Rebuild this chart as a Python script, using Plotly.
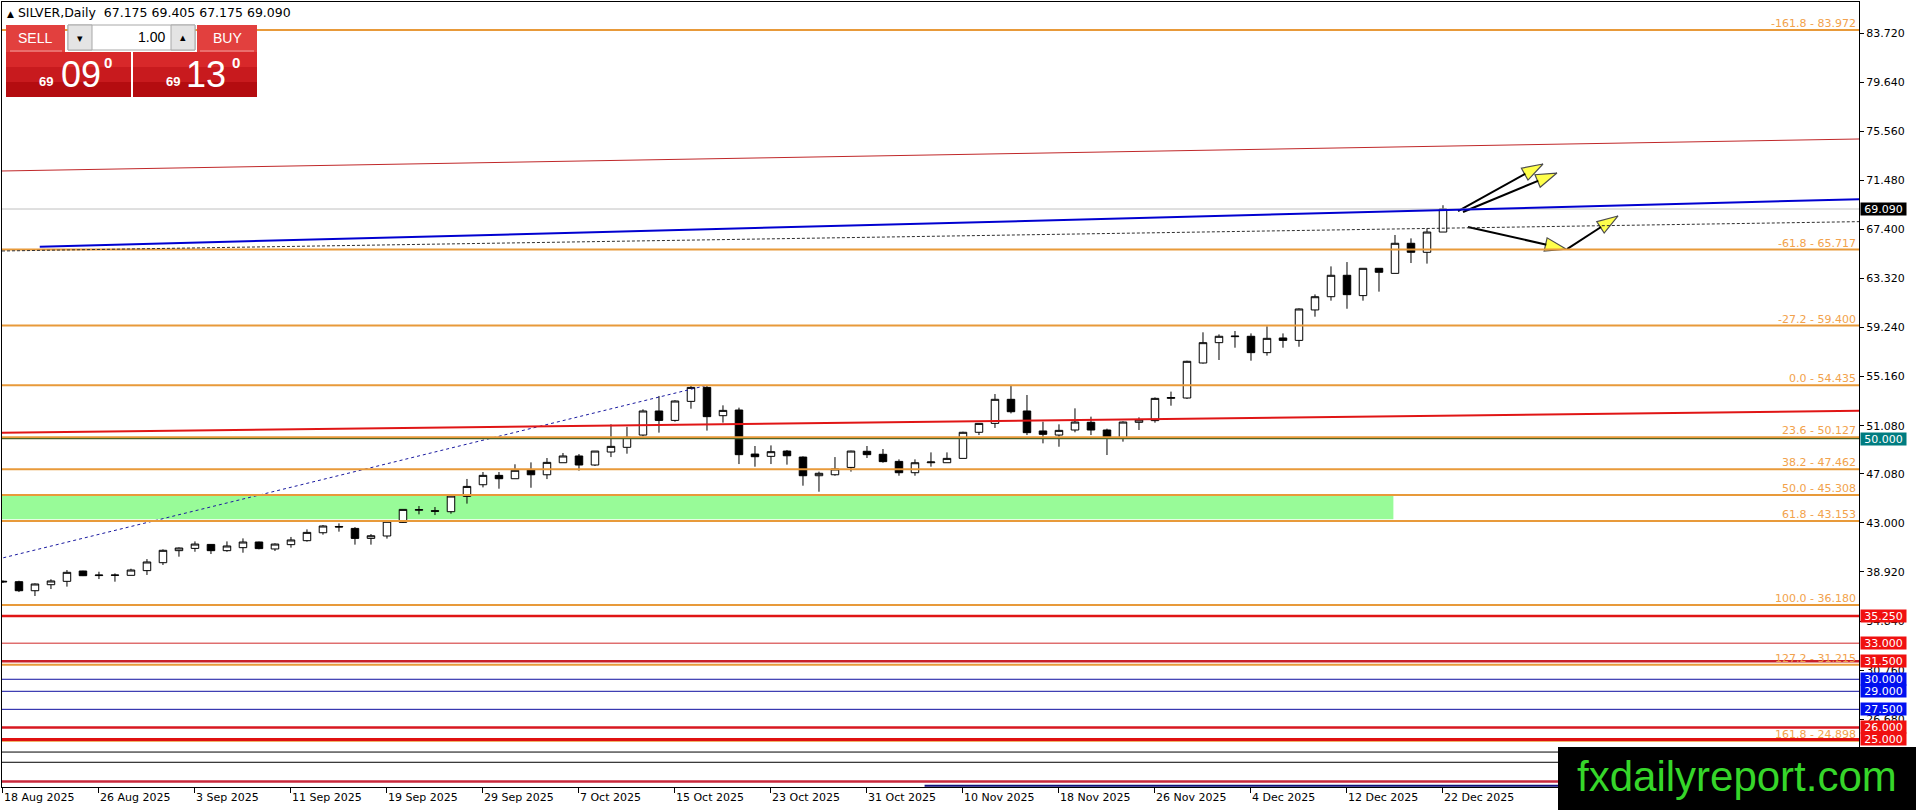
import plotly.graph_objects as go

# ---- data (daily bars, 18 Aug 2025 .. 22 Dec 2025) ----
tick_labels = ["18 Aug 2025", "26 Aug 2025", "3 Sep 2025", "11 Sep 2025",
               "19 Sep 2025", "29 Sep 2025", "7 Oct 2025", "15 Oct 2025",
               "23 Oct 2025", "31 Oct 2025", "10 Nov 2025", "18 Nov 2025",
               "26 Nov 2025", "4 Dec 2025", "12 Dec 2025", "22 Dec 2025"]

opens = [38.15, 38.11, 37.36, 37.86, 38.14, 39.00, 38.62, 38.64, 38.64, 39.03,
         39.69, 40.69, 40.88, 41.21, 40.69, 40.94, 41.41, 40.83, 41.19, 41.52,
         42.18, 42.70, 42.54, 41.71, 41.91, 43.04, 44.05, 44.01, 43.93, 45.20,
         46.17, 46.95, 46.67, 47.40, 47.00, 48.00, 48.56, 47.81, 48.89, 49.28,
         50.30, 52.30, 51.52, 53.10, 54.26, 51.91, 52.38, 48.72, 48.53, 48.97,
         48.47, 46.92, 47.00, 47.61, 48.95, 48.70, 48.11, 47.17, 48.00, 48.00,
         48.36, 50.53, 51.27, 53.27, 52.30, 50.64, 50.30, 50.72, 51.36, 50.72,
         50.03, 51.36, 51.50, 53.35, 53.38, 56.29, 57.98, 58.48, 58.51, 57.15,
         58.37, 58.17, 60.70, 61.80, 63.58, 61.89, 64.16, 63.74, 66.24, 65.49,
         67.175]
highs = [38.22, 38.19, 37.97, 38.31, 39.08, 39.02, 38.94, 38.80, 39.19, 39.99,
         40.80, 40.96, 41.46, 41.24, 41.46, 41.71, 41.44, 41.30, 41.83, 42.46,
         42.82, 42.96, 42.65, 42.07, 43.13, 44.12, 44.40, 44.32, 45.31, 46.65,
         47.23, 47.23, 47.87, 48.03, 48.39, 48.81, 48.72, 48.97, 51.19, 50.99,
         52.44, 53.55, 53.19, 54.43, 54.435, 52.77, 52.58, 49.39, 49.44, 49.06,
         48.53, 47.26, 48.47, 49.00, 49.39, 49.14, 48.28, 48.28, 48.86, 48.86,
         50.58, 51.27, 53.71, 54.40, 53.63, 51.41, 51.19, 52.52, 51.83, 50.83,
         51.44, 51.77, 53.43, 53.91, 56.48, 58.84, 58.67, 58.95, 58.75, 59.34,
         58.75, 60.83, 61.99, 64.32, 64.68, 64.16, 64.16, 66.93, 66.65, 67.48,
         69.405]
lows = [38.00, 37.25, 36.92, 37.50, 37.70, 38.58, 38.33, 38.11, 38.64, 38.67,
        39.50, 40.19, 40.60, 40.41, 40.60, 40.52, 40.80, 40.66, 40.94, 41.44,
        42.02, 42.27, 41.19, 41.19, 41.69, 42.99, 43.71, 43.65, 43.76, 44.60,
        45.95, 45.84, 46.67, 45.92, 46.64, 48.00, 47.34, 47.73, 48.47, 48.75,
        50.20, 50.50, 51.41, 52.49, 50.67, 51.33, 47.89, 47.67, 47.89, 47.84,
        46.09, 45.59, 46.92, 47.26, 48.39, 48.00, 46.92, 46.92, 47.67, 48.00,
        48.36, 50.30, 50.89, 52.10, 50.30, 49.61, 49.33, 50.53, 50.30, 48.64,
        49.75, 50.72, 51.33, 52.74, 53.30, 56.24, 56.54, 57.56, 56.48, 56.90,
        57.56, 57.64, 60.14, 61.47, 60.80, 61.47, 62.22, 63.74, 64.60, 64.55,
        67.175]
closes = [38.10, 37.36, 37.92, 38.17, 38.89, 38.61, 38.66, 38.66, 39.08, 39.75,
          40.72, 40.91, 41.24, 40.69, 41.08, 41.41, 40.86, 41.24, 41.58, 42.21,
          42.74, 42.66, 41.71, 41.93, 43.13, 44.12, 44.10, 43.97, 45.23, 46.03,
          46.95, 46.67, 47.37, 47.00, 48.03, 48.56, 47.81, 48.97, 49.36, 50.11,
          52.30, 51.52, 53.13, 54.26, 51.83, 52.35, 48.67, 48.50, 48.92, 48.58,
          46.92, 47.12, 47.48, 48.97, 48.67, 48.09, 47.17, 48.00, 48.06, 48.36,
          50.53, 51.27, 53.27, 52.24, 50.50, 50.36, 50.69, 51.38, 50.72, 50.03,
          51.38, 51.55, 53.35, 53.42, 56.43, 57.98, 58.51, 58.52, 57.15, 58.34,
          58.17, 60.78, 61.80, 63.58, 61.97, 64.16, 63.83, 66.24, 65.49, 67.175,
          69.09]

price_ticks = [22.600, 26.680, 30.760, 34.840, 38.920, 43.000, 47.080, 51.080,
               55.160, 59.240, 63.320, 67.400, 71.480, 75.560, 79.640, 83.720]

fib_ratios = [-161.8, -61.8, -27.2, 0.0, 23.6, 38.2, 50.0, 61.8, 100.0, 127.2, 161.8]
fib_prices = [83.972, 65.717, 59.400, 54.435, 50.127, 47.462, 45.308, 43.153,
              36.180, 31.215, 24.898]
fib_anchor = [-12, 36.180, 44, 54.435]        # bar, price, bar, price

red_levels = [35.25, 33.0, 31.5, 26.0, 25.0]
blue_levels = [30.0, 29.0, 27.5]
black_levels = [23.95, 23.10]
low_red_level = 21.50
low_blue_level = [57.6, 21.15]                # starts at bar, price
pivot_level = 50.0
bid_price = 69.09
ask_text = ("69", "13")
bid_text = ("69", "09")

# trend lines: bar0, price0, bar1, price1
red_channel_top = [-0.06, 72.25, 116, 74.91]
red_channel_mid = [-0.06, 50.50, 116, 52.32]
blue_trend = [2.3, 65.96, 116, 69.90]
dash_trend = [-0.06, 65.60, 116, 68.04]

# demand zone: bar0, bar1, price low, price high
zone = [-1, 86.9, 43.30, 45.28]

# scenario arrows: bar0, price0, bar1, price1
arrows = [[90.94, 68.92, 96.25, 72.83],
          [91.25, 68.84, 97.12, 72.08],
          [91.56, 67.59, 97.69, 65.76],
          [97.75, 65.76, 100.94, 68.51]]

header = "SILVER,Daily  67.175 69.405 67.175 69.090"

# ---- page geometry ----
W, H = 1916, 810
ML, MR, MT, MB = 2, 57, 2, 23
FONT = "DejaVu Sans"
ORANGE = "#E89A3A"
ORANGE_TXT = "#F2A24C"


def fx(px):
    return (px - ML) / (W - ML - MR)


def fy(py):
    return (H - MB - py) / (H - MT - MB)


bars = list(range(len(closes)))

fig = go.Figure()
fig.add_trace(go.Candlestick(
    x=bars, open=opens, high=highs, low=lows, close=closes,
    increasing=dict(fillcolor="white", line=dict(color="black", width=1)),
    decreasing=dict(fillcolor="black", line=dict(color="black", width=1)),
    whiskerwidth=0, hoverinfo="skip", showlegend=False,
))

for a in arrows:
    fig.add_trace(go.Scatter(
        x=[a[0], a[2]], y=[a[1], a[3]], mode="lines+markers",
        line=dict(color="black", width=2),
        marker=dict(symbol="arrow", size=[0, 22], angleref="previous",
                    color="#FFFF00", line=dict(color="black", width=1.2)),
        hoverinfo="skip", showlegend=False,
    ))

shapes = []
# demand zone (background)
shapes.append(dict(type="rect", xref="x", yref="y", x0=zone[0], x1=zone[1],
                   y0=zone[2], y1=zone[3], fillcolor="#98FB98",
                   line=dict(width=0), layer="below"))


def hline(price, color, width, dash="solid"):
    return dict(type="line", xref="paper", yref="y", x0=0, x1=1, y0=price,
                y1=price, line=dict(color=color, width=width, dash=dash),
                layer="above")


def tline(p, color, width, dash="solid"):
    return dict(type="line", xref="x", yref="y", x0=p[0], y0=p[1], x1=p[2],
                y1=p[3], line=dict(color=color, width=width, dash=dash),
                layer="above")


shapes.append(hline(bid_price, "#C0C0C0", 1))
shapes.append(tline(fib_anchor, "#1A1AA0", 1, "dot"))
for p in fib_prices:
    shapes.append(hline(p, ORANGE, 2))
shapes.append(hline(pivot_level, "#4F6428", 1.2))
shapes.append(tline(red_channel_top, "#C0282A", 1))
shapes.append(tline(red_channel_mid, "#E01515", 2))
shapes.append(tline(dash_trend, "#303030", 1, "3px,2px"))
shapes.append(tline(blue_trend, "#0000D0", 2))

red_widths = [2.5, 1, 2.5, 2.5, 3]
red_colors = ["#E01515", "#D02828", "#C8202A", "#D81820", "#E01010"]
for p, w, c in zip(red_levels, red_widths, red_colors):
    shapes.append(hline(p, c, w))
for p in blue_levels:
    shapes.append(hline(p, "#1010A0", 1))
for p in black_levels:
    shapes.append(hline(p, "black", 1))
shapes.append(hline(low_red_level, "#C8283C", 2.5))
shapes.append(dict(type="line", xref="x", yref="y", x0=low_blue_level[0],
                   x1=116, y0=low_blue_level[1], y1=low_blue_level[1],
                   line=dict(color="#10107A", width=2), layer="above"))


def prect(x0, x1, y0, y1, fill, line_color=None):
    return dict(type="rect", xref="paper", yref="paper", x0=fx(x0), x1=fx(x1),
                y0=fy(y1), y1=fy(y0), fillcolor=fill, layer="above",
                line=dict(color=line_color or fill, width=1 if line_color else 0))


# one-click trading panel
for x0, x1 in [(6, 131), (133, 257)]:
    shapes.append(prect(x0, x1, 52, 67, "#D8282A"))
    shapes.append(prect(x0, x1, 67, 82, "#C81A1E"))
    shapes.append(prect(x0, x1, 82, 97, "#B40C10"))
shapes.append(prect(6, 65, 25, 52, "#E2403E"))
shapes.append(prect(197, 257, 25, 52, "#E2403E"))
shapes.append(prect(68, 195, 25, 50, "white", "#A8A8A8"))
shapes.append(prect(68, 92, 25, 50, "#E4E4E4", "#A8A8A8"))
shapes.append(prect(171, 195, 25, 50, "#E4E4E4", "#A8A8A8"))
for x0, x1 in [(10, 62), (200, 254)]:
    shapes.append(dict(type="line", xref="paper", yref="paper", x0=fx(x0),
                       x1=fx(x1), y0=fy(51), y1=fy(51), layer="above",
                       line=dict(color="#F29A9A", width=1)))
# watermark box
shapes.append(prect(1558, 1920, 747, 815, "black"))

ann = []
for r, p in zip(fib_ratios, fib_prices):
    ann.append(dict(xref="paper", x=1, xanchor="right", xshift=-1, yref="y",
                    y=p, yanchor="bottom", yshift=-2, showarrow=False,
                    text=f"{r:.1f} - {p:.3f}",
                    font=dict(family=FONT, size=11, color=ORANGE_TXT)))


def price_label(p, bg):
    return dict(xref="paper", x=1, xanchor="left", xshift=1, yref="y", y=p,
                yanchor="middle", showarrow=False, text=f"{p:.3f}",
                bgcolor=bg, width=45, height=12, borderpad=0,
                font=dict(family=FONT, size=11, color="white"))


ann.append(price_label(bid_price, "black"))
ann.append(price_label(pivot_level, "#007C80"))
for p in red_levels:
    ann.append(price_label(p, "#F01010"))
for p in blue_levels:
    ann.append(price_label(p, "#0010F0"))

ann.append(dict(xref="paper", yref="paper", x=fx(5), y=fy(13), xanchor="left",
                yanchor="middle", showarrow=False,
                text="<span style='font-size:9px'>▲</span> " + header,
                font=dict(family=FONT, size=12.5, color="black")))


def ptext(x, y, text, size, color="white", anchor="center", bold=False):
    if bold:
        text = f"<b>{text}</b>"
    return dict(xref="paper", yref="paper", x=fx(x), y=fy(y), xanchor=anchor,
                yanchor="middle", showarrow=False, text=text,
                font=dict(family="Liberation Sans", size=size, color=color))


ann.append(ptext(35, 38, "SELL", 14))
ann.append(ptext(227, 38, "BUY", 14))
ann.append(ptext(167, 37, "1.00", 14, "black", "right"))
ann.append(ptext(80, 38, "▾", 11, "black"))
ann.append(ptext(183, 37, "▴", 11, "black"))
for (big_x, small_x, deg_x), (hi, lo) in [((81, 46, 108), bid_text),
                                          ((206, 173, 236), ask_text)]:
    ann.append(ptext(small_x, 82, hi, 13, bold=True))
    ann.append(ptext(big_x, 75, lo, 36))
    ann.append(ptext(deg_x, 63, "0", 15, bold=True))

ann.append(dict(xref="paper", yref="paper", x=fx(1737), y=fy(776),
                xanchor="center", yanchor="middle", showarrow=False,
                text="fxdailyreport.com",
                font=dict(family="Liberation Sans", size=42, color="#36D62A")))

fig.update_layout(
    width=W, height=H,
    margin=dict(l=ML, r=MR, t=MT, b=MB, pad=0, autoexpand=False),
    paper_bgcolor="white", plot_bgcolor="white",
    font=dict(family=FONT, size=11, color="black"),
    boxgap=0.33,
    showlegend=False,
    shapes=shapes, annotations=ann,
    xaxis=dict(range=[-0.06, 116], rangeslider=dict(visible=False),
               tickvals=list(range(0, len(bars), 6)), ticktext=tick_labels,
               ticklabelposition="outside right", ticks="outside", ticklen=5,
               tickcolor="black", showgrid=False, zeroline=False,
               showline=True, linecolor="black", linewidth=1, mirror=True,
               tickfont=dict(family=FONT, size=11)),
    yaxis=dict(range=[21.045, 86.297], side="right", tickvals=price_ticks,
               ticktext=[f"{v:.3f}" for v in price_ticks], ticks="outside",
               ticklen=4, tickcolor="black", showgrid=False, zeroline=False,
               showline=True, linecolor="black", linewidth=1, mirror=True,
               tickfont=dict(family=FONT, size=11)),
)

# the page body has a default 8px margin; drop it so the chart fills the window
fig.write_html("out.html", config={"displayModeBar": False},
               post_script="document.body.style.margin='0';")
